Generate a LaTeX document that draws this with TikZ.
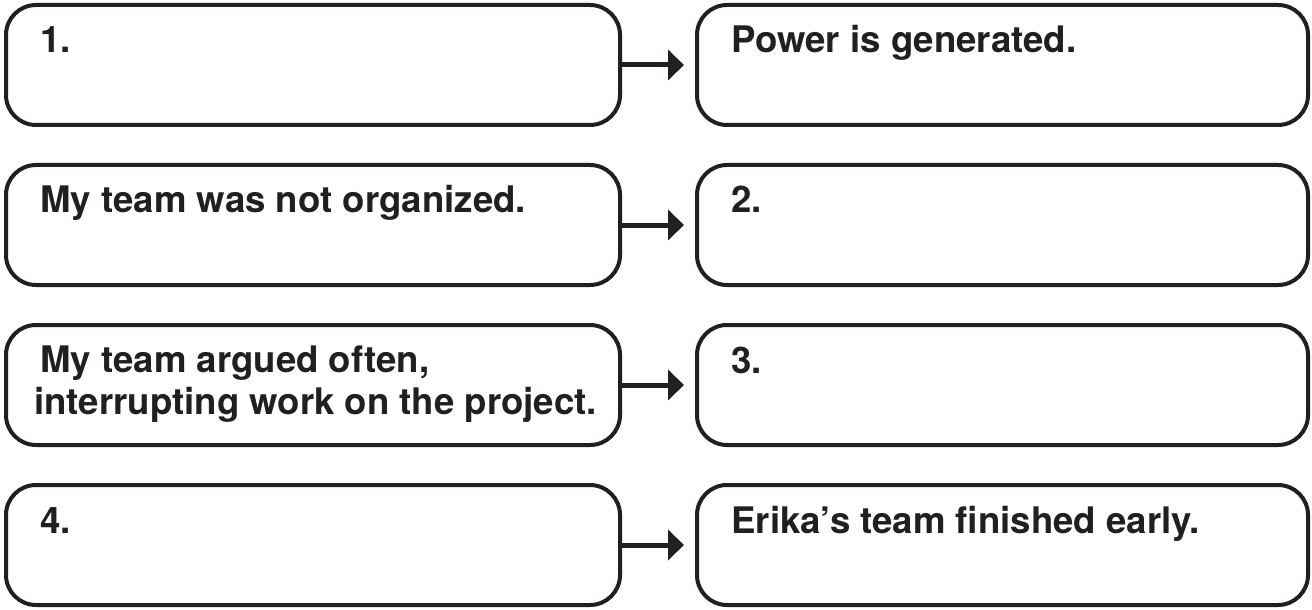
\documentclass[tikz,border=0pt]{standalone}
\usepackage{fontspec}
\setmainfont{TeX Gyre Heros}
\usetikzlibrary{arrows.meta,positioning,calc}
\definecolor{ink}{HTML}{231F20}

\begin{document}
\begin{tikzpicture}[x=0.5pt, y=-0.5pt]
  \tikzstyle{causebox}=[rectangle, draw=ink, line width=2pt, rounded corners=15pt, minimum width=307pt, minimum height=60pt, inner sep=0pt]
  \tikzstyle{effectbox}=[causebox, minimum width=305.5pt]
  \tikzstyle{boxtext}=[anchor=base west, inner sep=0pt, text=ink, font=\fontsize{18.3pt}{21pt}\selectfont\bfseries, align=left]
  \tikzstyle{link}=[-{Triangle[length=8pt, width=15pt]}, draw=ink, line width=2.5pt, shorten >=5.5pt]

  \useasboundingbox (0,0) rectangle (1312,610);

  % Causes
  \node[causebox] (c1) at (313,65) {};
  \node[causebox] (c2) at (313,225) {};
  \node[causebox] (c3) at (313,385) {};
  \node[causebox] (c4) at (313,545) {};

  % Effects
  \node[effectbox] (e1) at (1002.5,65) {};
  \node[effectbox] (e2) at (1002.5,225) {};
  \node[effectbox] (e3) at (1002.5,385) {};
  \node[effectbox] (e4) at (1002.5,545) {};

  % Texts
  \node[boxtext] (c1text) at ($(c1.north west)+(36,50)$) {1.};
  \node[boxtext] (c2text) at ($(c2.north west)+(36,50)$) {My team was not organized.};
  \node[boxtext] (c3text) at ($(c3.north west)+(30,91)$) {\hspace{3pt}My team argued often,\\interrupting work on the project.};
  \node[boxtext] (c4text) at ($(c4.north west)+(36,50)$) {4.};
  \node[boxtext] (e1text) at ($(e1.north west)+(36,50)$) {Power is generated.};
  \node[boxtext] (e2text) at ($(e2.north west)+(36,50)$) {2.};
  \node[boxtext] (e3text) at ($(e3.north west)+(36,50)$) {3.};
  \node[boxtext] (e4text) at ($(e4.north west)+(36,50)$) {Erika’s team finished early.};

  % Arrows
  \draw[link] (c1.east) -- (e1.west);
  \draw[link] (c2.east) -- (e2.west);
  \draw[link] (c3.east) -- (e3.west);
  \draw[link] (c4.east) -- (e4.west);
\end{tikzpicture}
\end{document}
